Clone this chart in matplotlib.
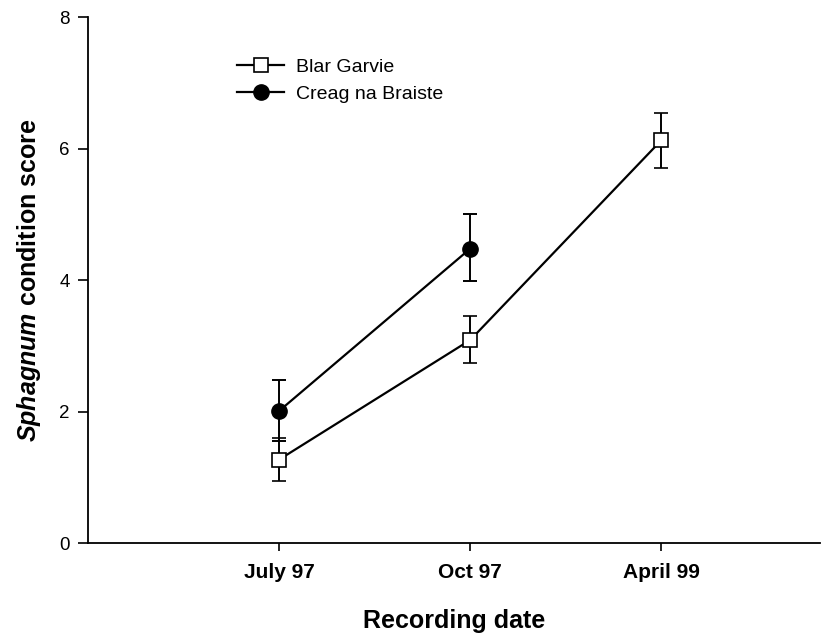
import matplotlib
matplotlib.use("Agg")
import matplotlib.pyplot as plt

plt.rcParams["font.family"] = ["Liberation Sans", "DejaVu Sans"]
plt.rcParams["mathtext.fontset"] = "custom"
plt.rcParams["mathtext.it"] = "Liberation Sans:italic:bold"

dates = ["July 97", "Oct 97", "April 99"]

blar_mean = [1.27, 3.09, 6.13]
blar_lo = [0.94, 2.74, 5.71]
blar_hi = [1.60, 3.46, 6.55]

creag_mean = [2.01, 4.48]
creag_lo = [1.55, 3.98]
creag_hi = [2.48, 5.00]

x_blar = [1, 2, 3]
x_creag = [1, 2]

fig = plt.figure(figsize=(8.21, 6.36), dpi=100)
ax = fig.add_axes([0.107, 0.146, 0.892, 0.827])

creag_err = [[m - lo for m, lo in zip(creag_mean, creag_lo)],
             [hi - m for m, hi in zip(creag_mean, creag_hi)]]
blar_err = [[m - lo for m, lo in zip(blar_mean, blar_lo)],
            [hi - m for m, hi in zip(blar_mean, blar_hi)]]

creag = ax.errorbar(x_creag, creag_mean, yerr=creag_err, color="black", lw=1.6,
                    marker="o", ms=11, mfc="black", mec="black",
                    capsize=5, capthick=1.4, elinewidth=1.4, zorder=3)
blar = ax.errorbar(x_blar, blar_mean, yerr=blar_err, color="black", lw=1.6,
                   marker="s", ms=9.5, mfc="white", mec="black", mew=1.2,
                   capsize=5, capthick=1.4, elinewidth=1.4, zorder=4)

ax.set_xlim(0, 3.83)
ax.set_ylim(0, 8)
ax.set_yticks([0, 2, 4, 6, 8])
ax.set_xticks(x_blar)
ax.set_xticklabels(dates, fontweight="bold", fontsize=15)
ax.tick_params(axis="y", labelsize=13.5, length=7, width=1.2, pad=6)
ax.tick_params(axis="x", length=6, width=1.2, pad=8)

for side in ("top", "right"):
    ax.spines[side].set_visible(False)
for side in ("left", "bottom"):
    ax.spines[side].set_linewidth(1.3)

ax.set_xlabel("Recording date", fontsize=18, fontweight="bold", labelpad=20)
ax.set_ylabel(r"$\mathit{Sphagnum}$ condition score", fontsize=18,
              fontweight="bold", labelpad=12)

# legend shows only the line + marker, no error bars
ax.legend([blar[0], creag[0]], ["Blar Garvie", "Creag na Braiste"],
          loc="upper left", bbox_to_anchor=(0.18, 0.955), frameon=False,
          fontsize=14, handlelength=2.4, handletextpad=0.6, labelspacing=0.5)

fig.savefig("out.png", dpi=100)
plt.close(fig)
